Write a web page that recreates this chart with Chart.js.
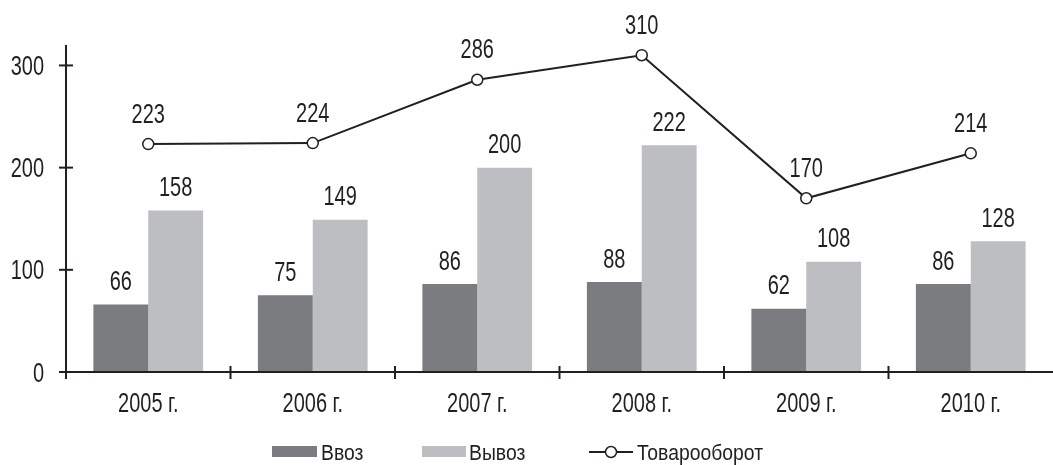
<!DOCTYPE html>
<html>
<head>
<meta charset="utf-8">
<script src="https://cdn.jsdelivr.net/npm/chart.js@4/dist/chart.umd.min.js"></script>
<style>
html,body{margin:0;padding:0;background:#fff;overflow:hidden;}
canvas{display:block;}
</style>
</head>
<body>
<canvas id="c" width="1060" height="465"></canvas>
<script>
const categories = ['2005 г.', '2006 г.', '2007 г.', '2008 г.', '2009 г.', '2010 г.'];
const importValues = [66, 75, 86, 88, 62, 86];
const exportValues = [158, 149, 200, 222, 108, 128];
const turnoverValues = [223, 224, 286, 310, 170, 214];
const yTicks = [0, 100, 200, 300];
const seriesNames = ['Ввоз', 'Вывоз', 'Товарооборот'];

const FONT = "'Liberation Sans', Arial, sans-serif";
const INK = '#231f20';
const DARK = '#7b7c80';
const LIGHT = '#bdbec2';
const NUM_SIZE = 27, NUM_SX = 0.74;
const LEG_SIZE = 22, LEG_SX = 0.88;

function txt(ctx, s, x, yCenter, size, sx, align) {
  ctx.save();
  ctx.font = size + 'px ' + FONT;
  ctx.textAlign = align || 'center';
  ctx.textBaseline = 'alphabetic';
  ctx.translate(x, yCenter + size * 0.716 / 2);
  ctx.scale(sx, 1);
  ctx.fillText(s, 0, 0);
  ctx.restore();
}

const overlay = {
  id: 'overlay',
  afterDraw(chart) {
    const ctx = chart.ctx;
    const xs = chart.scales.x, ys = chart.scales.y;
    const a = chart.chartArea;
    ctx.save();
    ctx.strokeStyle = INK;
    ctx.fillStyle = INK;
    ctx.lineWidth = 2;
    ctx.beginPath();
    ctx.moveTo(a.left, a.top);
    ctx.lineTo(a.left, a.bottom + 7);
    ctx.stroke();
    ctx.beginPath();
    ctx.moveTo(a.left - 7, a.bottom);
    ctx.lineTo(a.right, a.bottom);
    ctx.stroke();
    yTicks.forEach(v => {
      const y = ys.getPixelForValue(v);
      ctx.beginPath();
      ctx.moveTo(a.left - 7, y);
      ctx.lineTo(a.left + 7, y);
      ctx.stroke();
      txt(ctx, String(v), a.left - 22, y, NUM_SIZE, NUM_SX, 'right');
    });
    for (let i = 0; i < categories.length - 1; i++) {
      const x = (xs.getPixelForValue(i) + xs.getPixelForValue(i + 1)) / 2;
      ctx.beginPath();
      ctx.moveTo(x, a.bottom - 6);
      ctx.lineTo(x, a.bottom + 7);
      ctx.stroke();
    }
    categories.forEach((c, i) => {
      txt(ctx, c, xs.getPixelForValue(i), a.bottom + 30, NUM_SIZE, NUM_SX, 'center');
    });
    chart.data.datasets.forEach((ds, di) => {
      const meta = chart.getDatasetMeta(di);
      const off = ds.type === 'line' ? 31 : 24;
      meta.data.forEach((el, i) => {
        txt(ctx, String(ds.data[i]), el.x, el.y - off, NUM_SIZE, NUM_SX, 'center');
      });
    });
    const ly = 452;
    ctx.fillStyle = DARK;
    ctx.fillRect(272, ly - 6, 45, 11);
    ctx.fillStyle = INK;
    txt(ctx, seriesNames[0], 321, ly, LEG_SIZE, LEG_SX, 'left');
    ctx.fillStyle = LIGHT;
    ctx.fillRect(422, ly - 6, 44, 11);
    ctx.fillStyle = INK;
    txt(ctx, seriesNames[1], 469, ly, LEG_SIZE, LEG_SX, 'left');
    ctx.lineWidth = 2;
    ctx.beginPath();
    ctx.moveTo(589, ly);
    ctx.lineTo(633, ly);
    ctx.stroke();
    ctx.beginPath();
    ctx.arc(611, ly, 5.5, 0, Math.PI * 2);
    ctx.fillStyle = '#fff';
    ctx.fill();
    ctx.lineWidth = 1.5;
    ctx.stroke();
    ctx.fillStyle = INK;
    txt(ctx, seriesNames[2], 637, ly, LEG_SIZE, LEG_SX, 'left');
    ctx.restore();
  }
};

new Chart(document.getElementById('c'), {
  data: {
    labels: categories,
    datasets: [
      { type: 'line', label: seriesNames[2], data: turnoverValues, order: 0,
        borderColor: INK, borderWidth: 2, tension: 0,
        pointRadius: 5.5, pointHoverRadius: 5.5, pointBackgroundColor: '#fff',
        pointBorderColor: INK, pointBorderWidth: 1.5 },
      { type: 'bar', label: seriesNames[0], data: importValues, order: 1,
        backgroundColor: DARK, borderWidth: 0,
        categoryPercentage: 0.667, barPercentage: 1 },
      { type: 'bar', label: seriesNames[1], data: exportValues, order: 1,
        backgroundColor: LIGHT, borderWidth: 0,
        categoryPercentage: 0.667, barPercentage: 1 }
    ]
  },
  options: {
    responsive: false,
    animation: false,
    layout: { padding: { top: 45, right: 1, left: 0, bottom: 0 } },
    plugins: { legend: { display: false }, tooltip: { enabled: false } },
    scales: {
      x: {
        offset: true,
        grid: { display: false, drawTicks: false },
        border: { display: false },
        ticks: { display: false },
        afterFit(s) { s.height = 93; }
      },
      y: {
        min: 0, max: 320,
        grid: { display: false, drawTicks: false },
        border: { display: false },
        ticks: { display: false },
        afterBuildTicks(s) { s.ticks = yTicks.map(v => ({ value: v })); },
        afterFit(s) { s.width = 66; }
      }
    }
  },
  plugins: [overlay]
});
</script>
</body>
</html>
